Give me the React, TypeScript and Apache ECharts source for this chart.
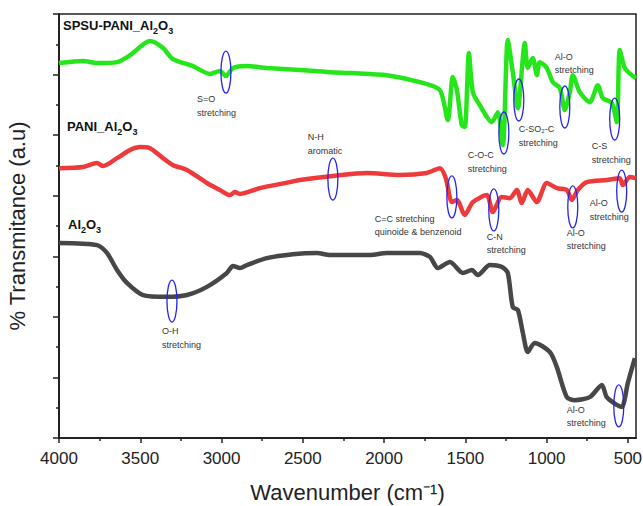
import React, { useEffect, useRef } from "react";
import * as echarts from "echarts";

// ---- data (wavenumber cm-1, transmittance a.u.) ----
const greenWn = [4000, 3852, 3766, 3643, 3563, 3440, 3360, 3299, 3176, 3071, 3010, 2973, 2930, 2844, 2721, 2518, 2333, 2192, 1983, 1780, 1657, 1608, 1577, 1552, 1522, 1503, 1478, 1454, 1411, 1337, 1300, 1269, 1239, 1208, 1177, 1134, 1116, 1085, 1060, 1042, 999, 962, 919, 888, 857, 839, 796, 734, 685, 654, 599, 568, 550, 519, 476, 450];
const greenT = [12.38, 12.45, 12.38, 12.41, 12.64, 13.11, 12.88, 12.51, 12.28, 12.02, 12.12, 11.95, 12.22, 12.28, 12.22, 12.15, 12.08, 12.05, 11.98, 11.75, 11.49, 10.5, 11.92, 11.49, 10.33, 10.27, 12.71, 11.42, 10.99, 10.43, 10.76, 9.67, 13.14, 12.08, 10.89, 13.04, 12.22, 12.55, 11.98, 12.41, 12.22, 11.75, 11.56, 10.83, 11.42, 11.98, 11.42, 11.09, 11.65, 11.22, 11.06, 10.43, 12.81, 12.22, 11.98, 11.88];

const redWn = [4000, 3852, 3766, 3729, 3643, 3563, 3502, 3440, 3360, 3299, 3213, 3090, 3010, 2948, 2918, 2887, 2764, 2580, 2518, 2315, 2106, 1903, 1737, 1657, 1620, 1583, 1552, 1503, 1454, 1368, 1331, 1276, 1226, 1183, 1153, 1116, 1060, 999, 937, 876, 845, 808, 753, 630, 550, 531, 488, 450];
const redT = [8.91, 8.95, 9.08, 8.98, 9.24, 9.51, 9.61, 9.57, 9.24, 9.01, 8.85, 8.42, 8.19, 8.02, 8.12, 8.06, 8.25, 8.45, 8.52, 8.65, 8.75, 8.68, 8.75, 8.91, 8.58, 7.79, 7.86, 7.36, 7.79, 8.02, 7.46, 7.96, 7.92, 8.19, 7.76, 8.19, 7.79, 8.42, 8.25, 8.19, 7.86, 8.19, 8.45, 8.52, 8.58, 8.35, 8.62, 8.58];

const grayWn = [4000, 3766, 3705, 3643, 3582, 3483, 3336, 3213, 3090, 2967, 2930, 2887, 2844, 2721, 2561, 2413, 2333, 2087, 1983, 1780, 1718, 1669, 1595, 1515, 1460, 1423, 1349, 1276, 1239, 1208, 1177, 1146, 1116, 1073, 980, 937, 876, 827, 734, 660, 630, 568, 537, 500, 457];
const grayT = [6.44, 6.37, 6.11, 5.55, 5.12, 4.72, 4.66, 4.72, 4.99, 5.45, 5.68, 5.61, 5.71, 5.94, 6.07, 6.11, 6.04, 6.04, 6.11, 6.11, 5.98, 5.61, 5.81, 5.45, 5.55, 5.38, 5.71, 5.65, 5.45, 4.32, 4.23, 3.47, 2.84, 3.14, 2.84, 2.34, 1.35, 1.25, 1.35, 1.75, 1.35, 1.09, 1.02, 1.82, 2.64];

const xMajorTicks = [500, 1000, 1500, 2000, 2500, 3000, 3500, 4000];
const xMinorTicks = [750, 1250, 1750, 2250, 2750, 3250, 3750];

// annotations (band position)
const annWn = [2973, 2315, 1583, 1325, 839, 538, 1263, 1171, 888, 581, 3305, 556];
const annT = [12.08, 8.55, 7.96, 7.53, 7.63, 8.15, 10.07, 11.16, 10.93, 10.53, 4.52, 1.06];
const annText = [
  ["S=O", "stretching"],
  ["N-H", "aromatic"],
  ["C=C stretching", "quinoide & benzenoid"],
  ["C-N", "stretching"],
  ["Al-O", "stretching"],
  ["Al-O", "stretching"],
  ["C-O-C", "stretching"],
  ["C-SO\u2082-C", "stretching"],
  ["Al-O", "stretching"],
  ["C-S", "stretching"],
  ["O-H", "stretching"],
  ["Al-O", "stretching"],
];
// label offsets from the ellipse centre (px) — style only
const annOffset = [
  [-29, 27], [-25, -42], [-77, 22], [-7, 27], [-6, 26], [-32, 12],
  [-36, 22], [0, 29], [-10, -50], [-23, 27], [-10, 30], [-52, 4],
];

const FONT = "'Liberation Sans', Arial, sans-serif";

function pairs(xs: number[], ys: number[]) {
  return xs.map((x, i) => [x, ys[i]]);
}

function richLabel(parts: [string, boolean][]) {
  return parts.map(([t, sub]) => (sub ? `{s|${t}}` : `{b|${t}}`)).join("");
}

export default function App() {
  const ref = useRef<HTMLDivElement>(null);
  useEffect(() => {
    if (!ref.current) return;
    const chart = echarts.init(ref.current, undefined, { renderer: "svg" });
    const rich = {
      b: { fontSize: 13, fontWeight: "bold", fontFamily: FONT, fill: "#111", color: "#111", lineHeight: 16, verticalAlign: "bottom" },
      s: { fontSize: 9, fontWeight: "bold", fontFamily: FONT, fill: "#111", color: "#111", lineHeight: 16, verticalAlign: "bottom", padding: [0, 0, -3, 0] },
    };
    const lineSeries = (name: string, data: number[][], color: string) => ({
      name,
      type: "line",
      data,
      xAxisIndex: 0,
      yAxisIndex: 0,
      showSymbol: false,
      smooth: 0.25,
      lineStyle: { color, width: 4.5 },
      z: 2,
    });
    chart.setOption({
      animation: false,
      backgroundColor: "#fff",
      grid: {
        left: 59, right: 7, top: 14, bottom: 68,
        show: true, borderColor: "#222", borderWidth: 1.5,
        containLabel: false, outerBoundsMode: "none",
      },
      xAxis: [
        {
          type: "value",
          min: 450,
          max: 4000,
          inverse: true,
          position: "bottom",
          axisLine: { show: true, lineStyle: { color: "#222", width: 2 } },
          axisTick: { show: true, customValues: xMajorTicks, length: 5, lineStyle: { color: "#222", width: 1.5 } },
          axisLabel: {
            customValues: xMajorTicks, fontSize: 17, color: "#222", fontFamily: FONT, margin: 12,
            formatter: (v: number) => String(v),
          },
          splitLine: { show: false },
          name: "Wavenumber (cm\u207B\u00B9)",
          nameLocation: "middle",
          nameGap: 43,
          nameTextStyle: { fontSize: 22, color: "#222", fontFamily: FONT },
        },
        {
          type: "value",
          min: 450,
          max: 4000,
          inverse: true,
          position: "bottom",
          axisLine: { show: false },
          axisTick: { show: true, customValues: xMinorTicks, length: 3, lineStyle: { color: "#222", width: 1.5 } },
          axisLabel: { show: false },
          splitLine: { show: false },
        },
      ],
      yAxis: {
        type: "value",
        min: 0,
        max: 14,
        interval: 2,
        axisLine: { show: true, lineStyle: { color: "#222", width: 2 } },
        axisTick: { show: true, length: 6, lineStyle: { color: "#222", width: 1.5 } },
        minorTick: { show: true, splitNumber: 2, length: 3, lineStyle: { color: "#222", width: 1.5 } },
        axisLabel: { show: false },
        splitLine: { show: false },
        name: "% Transmitance (a.u)",
        nameLocation: "middle",
        nameGap: 31,
        nameTextStyle: { fontSize: 22, color: "#222", fontFamily: FONT },
      },
      series: [
        lineSeries("SPSU-PANI_Al2O3", pairs(greenWn, greenT), "#25e61a"),
        lineSeries("PANI_Al2O3", pairs(redWn, redT), "#ee3a3a"),
        lineSeries("Al2O3", pairs(grayWn, grayT), "#474747"),
        {
          type: "custom",
          xAxisIndex: 0,
          yAxisIndex: 0,
          z: 5,
          clip: false,
          data: annWn.map((w, i) => [w, annT[i], i]),
          renderItem: (params: any, api: any) => {
            const p = api.coord([api.value(0), api.value(1)]);
            const i = api.value(2);
            const [dx, dy] = annOffset[i];
            const lines = annText[i];
            return {
              type: "group",
              children: [
                {
                  type: "ellipse",
                  shape: { cx: p[0], cy: p[1], rx: 5, ry: 21 },
                  style: { fill: "none", stroke: "#2424f0", lineWidth: 1.3 },
                },
                ...lines.map((t: string, k: number) => ({
                  type: "text",
                  style: {
                    text: t,
                    x: p[0] + dx,
                    y: p[1] + dy + k * 13.5,
                    fill: "#333",
                    fontSize: 9,
                    fontFamily: FONT,
                    align: "left",
                    verticalAlign: "middle",
                  },
                })),
              ],
            };
          },
        },
      ],
      graphic: [
        {
          type: "text",
          left: 63,
          top: 19,
          style: { text: richLabel([["SPSU-PANI_Al", false], ["2", true], ["O", false], ["3", true]]), rich },
        },
        {
          type: "text",
          left: 67,
          top: 120,
          style: { text: richLabel([["PANI_Al", false], ["2", true], ["O", false], ["3", true]]), rich },
        },
        {
          type: "text",
          left: 68,
          top: 218,
          style: { text: richLabel([["Al", false], ["2", true], ["O", false], ["3", true]]), rich },
        },
      ],
    });
    return () => chart.dispose();
  }, []);
  return (
    <div
      ref={ref}
      style={{ position: "fixed", left: 0, top: 0, width: 643, height: 506, background: "#fff" }}
    />
  );
}
